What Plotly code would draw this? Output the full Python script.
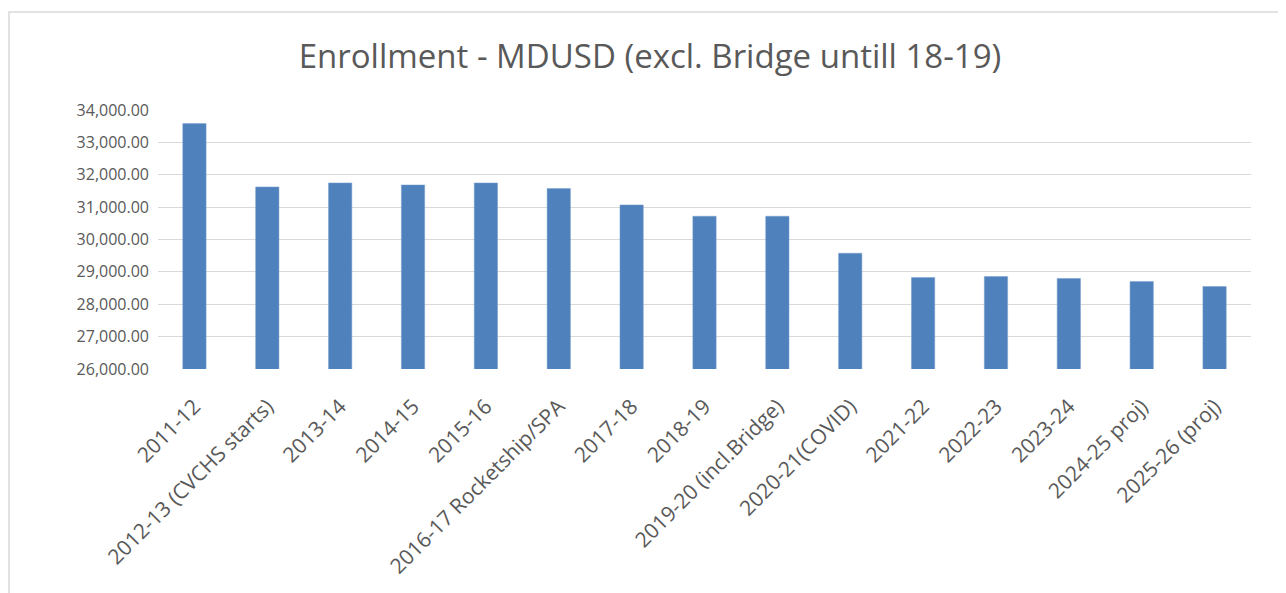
import plotly.graph_objects as go

categories = [
    "2011-12", "2012-13 (CVCHS starts)", "2013-14", "2014-15", "2015-16",
    "2016-17 Rocketship/SPA", "2017-18", "2018-19", "2019-20 (incl.Bridge)",
    "2020-21(COVID)", "2021-22", "2022-23", "2023-24", "2024-25 proj)", "2025-26 (proj)",
]
enrollment = [
    33580, 31623, 31747, 31685, 31747,
    31573, 31068, 30719, 30719,
    29577, 28827, 28858, 28796, 28704, 28549,
]
title_text = "Enrollment - MDUSD (excl. Bridge untill 18-19)"

FONT = "'Open Sans', sans-serif"
GRAY = "#595959"

fig = go.Figure(go.Bar(
    x=categories, y=enrollment,
    marker=dict(color="#4f81bd", line=dict(color="#7ba0cd", width=0.5)),
))

# page body has an 8px margin, so the figure is laid out in its own coords
OFF = 8
W, H = 1286 - OFF, 593 - OFF
L, R, T, B = 158 - OFF, W - (1251 - OFF), 110 - OFF, H - (369 - OFF)
pw, ph = W - L - R, H - T - B

def px_x(sx):
    return (sx - OFF - L) / pw

def px_y(sy):
    return (H - B - (sy - OFF)) / ph

fig.update_layout(
    width=W, height=H,
    margin=dict(l=L, r=R, t=T, b=B, autoexpand=False),
    paper_bgcolor="white", plot_bgcolor="white",
    showlegend=False,
    bargap=0.68,
    title=dict(text=title_text, xref="container", x=(650 - OFF) / W, xanchor="center",
               yref="container", y=1 - (56 - OFF) / H, yanchor="middle",
               font=dict(family=FONT, size=33, color=GRAY)),
    font=dict(family=FONT, color=GRAY),
    xaxis=dict(type="category", tickangle=-45, tickfont=dict(size=21, color=GRAY),
               showgrid=False, showline=False, ticks="", ticklabelstandoff=20),
    yaxis=dict(range=[26000, 34000], dtick=1000, tickformat=",.2f",
               tickfont=dict(size=16, color=GRAY), gridcolor="#d9d9d9", gridwidth=1,
               zeroline=False, showline=False, ticks="", ticklabelstandoff=8),
    shapes=[dict(type="rect", xref="paper", yref="paper",
                 x0=px_x(9), x1=px_x(1284), y0=px_y(600), y1=px_y(12),
                 line=dict(color="#d9d9d9", width=1.5), fillcolor="rgba(0,0,0,0)",
                 layer="below")],
)

fig.write_html("out.html")
